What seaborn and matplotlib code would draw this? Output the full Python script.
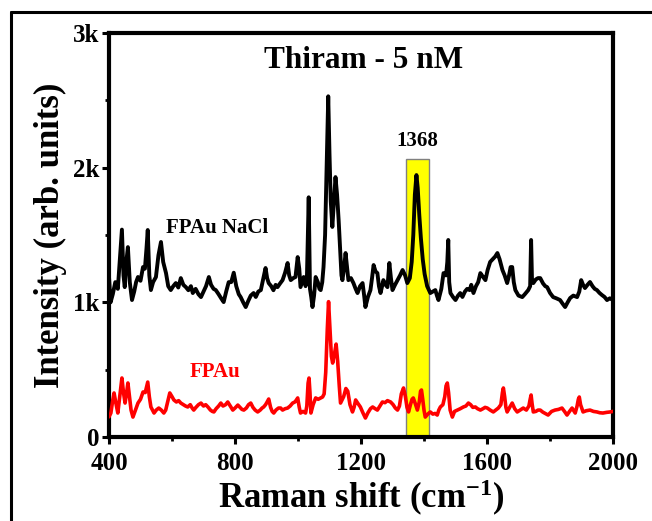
import numpy as np
import pandas as pd
import matplotlib
matplotlib.use("Agg")
import matplotlib.pyplot as plt
from matplotlib.lines import Line2D
from matplotlib.ticker import MultipleLocator, FixedLocator, FixedFormatter
import seaborn as sns

# ---------------- data ----------------
nacl_shift = [400, 405, 412, 420, 428, 434, 441, 446, 450, 455, 460, 466, 473, 480, 486, 492, 500, 508, 514, 519,
              523, 528, 533, 540, 549, 557, 565, 572, 581, 588, 596, 604, 612, 620, 628, 636, 644, 652, 660, 666,
              675, 684, 692, 700, 708, 717, 724, 732, 739, 748, 756, 764, 772, 780, 788, 796, 804, 812, 818, 826,
              834, 842, 850, 859, 866, 874, 882, 890, 897, 902, 907, 915, 922, 929, 935, 943, 951, 959, 967, 972,
              977, 985, 992, 999, 1004, 1008, 1013, 1018, 1024, 1028, 1034, 1038, 1042, 1046, 1051, 1056, 1063, 1068,
              1072, 1077, 1081, 1086, 1091, 1096, 1100, 1104, 1109, 1114, 1119, 1124, 1129, 1134, 1138, 1141, 1146,
              1151, 1156, 1160, 1168, 1176, 1183, 1189, 1197, 1205, 1210, 1214, 1222, 1230, 1235, 1240, 1246, 1252,
              1257, 1262, 1267, 1271, 1278, 1284, 1290, 1295, 1300, 1308, 1316, 1324, 1332, 1340, 1347, 1355, 1361,
              1366, 1371, 1376, 1380, 1385, 1390, 1396, 1402, 1410, 1420, 1428, 1436, 1441, 1446, 1455, 1462, 1470,
              1474, 1477, 1480, 1484, 1492, 1500, 1508, 1515, 1522, 1530, 1537, 1545, 1550, 1557, 1565, 1572, 1579,
              1587, 1595, 1602, 1610, 1618, 1626, 1633, 1640, 1649, 1656, 1664, 1670, 1675, 1680, 1685, 1690, 1700,
              1712, 1720, 1731, 1737, 1740, 1743, 1747, 1755, 1762, 1769, 1778, 1785, 1791, 1800, 1810, 1820, 1832,
              1840, 1848, 1856, 1864, 1874, 1886, 1893, 1899, 1905, 1911, 1919, 1927, 1935, 1942, 1949, 1957, 1965,
              1973, 1981, 1990, 2000]
nacl_intensity = [1190, 1000, 1060, 1150, 1100, 1300, 1540, 1200, 1113, 1300, 1410, 1150, 1017, 1080, 1150, 1188,
                  1160, 1262, 1250, 1400, 1537, 1200, 1091, 1150, 1188, 1350, 1448, 1300, 1217, 1120, 1091, 1120,
                  1143, 1110, 1180, 1130, 1113, 1090, 1120, 1069, 1100, 1060, 1039, 1080, 1120, 1188, 1130, 1100,
                  1091, 1060, 1030, 1002, 1080, 1150, 1150, 1220, 1120, 1060, 1039, 1000, 965, 1010, 1050, 1069,
                  1040, 1080, 1091, 1180, 1255, 1180, 1143, 1120, 1090, 1130, 1113, 1140, 1165, 1220, 1292, 1200,
                  1165, 1180, 1188, 1336, 1250, 1113, 1150, 1188, 1120, 1150, 1780, 1100, 1040, 965, 1050, 1188,
                  1150, 1100, 1091, 1150, 1262, 1500, 2000, 2530, 2100, 1750, 1560, 1750, 1930, 1800, 1611, 1380,
                  1200, 1165, 1250, 1366, 1250, 1165, 1180, 1143, 1100, 1069, 1120, 1143, 1050, 965, 1040, 1091,
                  1180, 1277, 1230, 1217, 1120, 1069, 1120, 1165, 1130, 1113, 1292, 1180, 1091, 1130, 1165, 1200,
                  1240, 1200, 1143, 1180, 1300, 1500, 1800, 1945, 1850, 1650, 1480, 1320, 1210, 1120, 1069, 1080,
                  1091, 1050, 1017, 1100, 1217, 1200, 1300, 1463, 1150, 1069, 1040, 1017, 1050, 1069, 1040, 1080,
                  1100, 1091, 1130, 1069, 1120, 1150, 1217, 1190, 1165, 1240, 1300, 1320, 1340, 1366, 1320, 1240,
                  1200, 1143, 1200, 1262, 1262, 1150, 1091, 1050, 1039, 1060, 1091, 1120, 1463, 1150, 1143, 1170,
                  1180, 1180, 1140, 1120, 1113, 1070, 1039, 1030, 1017, 990, 965, 1000, 1032, 1050, 1039, 1080,
                  1165, 1130, 1106, 1130, 1151, 1120, 1100, 1091, 1070, 1054, 1040, 1017, 1030, 1017]

fpau_shift = [400, 406, 411, 416, 422, 428, 434, 441, 446, 451, 456, 460, 465, 470, 476, 484, 492, 500, 508, 515,
              520, 523, 528, 533, 538, 543, 550, 558, 566, 574, 580, 586, 593, 600, 606, 614, 621, 628, 636, 643,
              650, 658, 664, 669, 676, 684, 692, 700, 707, 714, 722, 728, 733, 740, 748, 755, 762, 770, 777, 785,
              793, 800, 809, 816, 822, 828, 836, 843, 850, 857, 864, 872, 880, 886, 891, 897, 902, 907, 913, 918,
              923, 930, 938, 945, 951, 959, 967, 975, 983, 990, 995, 999, 1004, 1008, 1016, 1024, 1028, 1032, 1035,
              1038, 1041, 1048, 1056, 1064, 1072, 1078, 1083, 1088, 1093, 1097, 1101, 1106, 1110, 1116, 1121, 1126,
              1131, 1135, 1145, 1152, 1158, 1165, 1173, 1178, 1183, 1190, 1198, 1206, 1214, 1222, 1230, 1237, 1245,
              1252, 1260, 1268, 1276, 1284, 1294, 1302, 1309, 1316, 1322, 1328, 1335, 1341, 1346, 1351, 1357, 1362,
              1366, 1372, 1379, 1385, 1389, 1392, 1396, 1400, 1404, 1412, 1420, 1428, 1435, 1442, 1447, 1452, 1460,
              1466, 1470, 1474, 1478, 1483, 1490, 1497, 1506, 1515, 1525, 1533, 1541, 1548, 1555, 1563, 1570, 1579,
              1587, 1594, 1601, 1610, 1620, 1628, 1636, 1644, 1649, 1652, 1656, 1660, 1664, 1672, 1680, 1688, 1696,
              1705, 1715, 1725, 1733, 1737, 1740, 1743, 1747, 1755, 1762, 1769, 1777, 1785, 1794, 1805, 1816, 1827,
              1838, 1846, 1854, 1862, 1870, 1880, 1886, 1890, 1893, 1897, 1905, 1915, 1927, 1938, 1949, 1958, 1968,
              1980, 1991, 2000]
fpau_intensity = [150, 178, 260, 327, 250, 178, 300, 438, 330, 252, 330, 401, 300, 200, 148, 200, 252, 280, 334, 330,
                  380, 408, 300, 223, 200, 178, 200, 215, 200, 178, 200, 260, 327, 300, 275, 260, 270, 252, 240, 230,
                  223, 240, 215, 200, 220, 240, 252, 230, 240, 223, 200, 190, 186, 210, 230, 252, 230, 240, 260, 230,
                  200, 215, 237, 220, 205, 200, 215, 240, 252, 220, 200, 186, 200, 215, 223, 240, 260, 282, 220, 190,
                  178, 200, 215, 215, 200, 210, 215, 230, 252, 260, 275, 290, 220, 178, 190, 178, 230, 400, 438,
                  330, 178, 240, 290, 280, 290, 297, 320, 480, 800, 1005, 820, 600, 549, 620, 690, 560,
                  380, 252, 300, 360, 340, 240, 186, 220, 275, 250, 223, 180, 141, 180, 210, 223, 210,
                  200, 230, 260, 255, 270, 260, 240, 215, 200, 230, 320, 364, 300, 220, 186, 240, 280,
                  290, 250, 200, 260, 340, 349, 280, 200, 148, 170, 186, 170, 175, 163, 200, 223, 240,
                  300, 380, 401, 330, 200, 148, 190, 200, 210, 223, 230, 252, 240, 220, 223, 210, 200,
                  210, 220, 215, 200, 186, 200, 215, 240, 330, 364, 300, 220, 186, 220, 252, 210, 186,
                  200, 215, 200, 230, 280, 312, 250, 186, 190, 200, 200, 185, 175, 163, 190, 200, 205,
                  215, 190, 163, 190, 215, 178, 230, 280, 297, 240, 186, 195, 200, 190, 186, 180, 178,
                  183, 186, 190]

x_ticks = [400, 800, 1200, 1600, 2000]
y_ticks = [0, 1000, 2000, 3000]
y_tick_labels = ["0", "1k", "2k", "3k"]
band_range = [1343, 1417]
band_top = 2065
band_label = "1368"

# ---------------- styling ----------------
sns.set_theme(style="white")
plt.rcParams["font.family"] = ["Liberation Serif", "DejaVu Serif"]
plt.rcParams["font.weight"] = "bold"
plt.rcParams["axes.labelweight"] = "bold"
plt.rcParams["text.color"] = "black"
plt.rcParams["axes.labelcolor"] = "black"
plt.rcParams["xtick.color"] = "black"
plt.rcParams["ytick.color"] = "black"
plt.rcParams["mathtext.fontset"] = "custom"
plt.rcParams["mathtext.rm"] = "Liberation Serif:bold"
plt.rcParams["mathtext.bf"] = "Liberation Serif:bold"
plt.rcParams["mathtext.default"] = "bf"

fig = plt.figure(figsize=(6.52, 5.21), dpi=100)
ax = fig.add_axes([109 / 652, 1 - 437 / 521, (613 - 109) / 652, (437 - 33) / 521])

df_nacl = pd.DataFrame({"shift": nacl_shift, "intensity": nacl_intensity})
df_fpau = pd.DataFrame({"shift": fpau_shift, "intensity": fpau_intensity})

ax.axvspan(band_range[0], band_range[1], ymin=0, ymax=band_top / 3000,
           facecolor="#FFFF00", edgecolor="#808080", linewidth=1.0, zorder=1)

sns.lineplot(data=df_nacl, x="shift", y="intensity", color="black", linewidth=2.8,
             ax=ax, zorder=3, estimator=None, sort=False)
sns.lineplot(data=df_fpau, x="shift", y="intensity", color="#FF0000", linewidth=2.6,
             ax=ax, zorder=3, estimator=None, sort=False)

ax.set_xlim(400, 2000)
ax.set_ylim(0, 3000)

ax.xaxis.set_major_locator(FixedLocator(x_ticks))
ax.xaxis.set_minor_locator(MultipleLocator(200))
ax.yaxis.set_major_locator(FixedLocator(y_ticks))
ax.yaxis.set_major_formatter(FixedFormatter(y_tick_labels))
ax.yaxis.set_minor_locator(MultipleLocator(500))

for s in ax.spines.values():
    s.set_linewidth(3.0)
    s.set_color("black")
    s.set_visible(True)

ax.tick_params(which="major", direction="out", length=5, width=2.2, color="black",
               labelsize=18, bottom=True, left=True, labelcolor="black")
ax.tick_params(axis="x", which="major", pad=6)
ax.tick_params(axis="y", which="major", pad=2)
ax.tick_params(which="minor", direction="out", length=3, width=2.0, color="black",
               bottom=True, left=True)
for lab in ax.get_xticklabels() + ax.get_yticklabels():
    lab.set_fontweight("bold")

ax.set_xlabel(r"Raman shift (cm$^{\mathbf{-1}}$)", fontsize=25, fontweight="bold",
              labelpad=2, color="black")
ax.set_ylabel("Intensity (arb. units)", fontsize=25, fontweight="bold", labelpad=4, color="black")

ax.text(0.505, 0.933, "Thiram - 5 nM", transform=ax.transAxes, ha="center", va="center",
        fontsize=22.5, fontweight="bold", color="black")
ax.text(742, 1552, "FPAu NaCl", ha="center", va="center", fontsize=15, fontweight="bold", color="black")
ax.text(737, 482, "FPAu", ha="center", va="center", fontsize=15, fontweight="bold", color="#FF0000")
ax.text(1380, band_top + 60, band_label, ha="center", va="bottom", fontsize=15, fontweight="bold", color="black")

# outer frame (left and top edges)
fig.add_artist(Line2D([11 / 652, 11 / 652], [0, 1 - 12 / 521], transform=fig.transFigure,
                      color="black", linewidth=2.2))
fig.add_artist(Line2D([11 / 652, 1], [1 - 12 / 521, 1 - 12 / 521], transform=fig.transFigure,
                      color="black", linewidth=2.2))

fig.savefig("out.png", dpi=100)
